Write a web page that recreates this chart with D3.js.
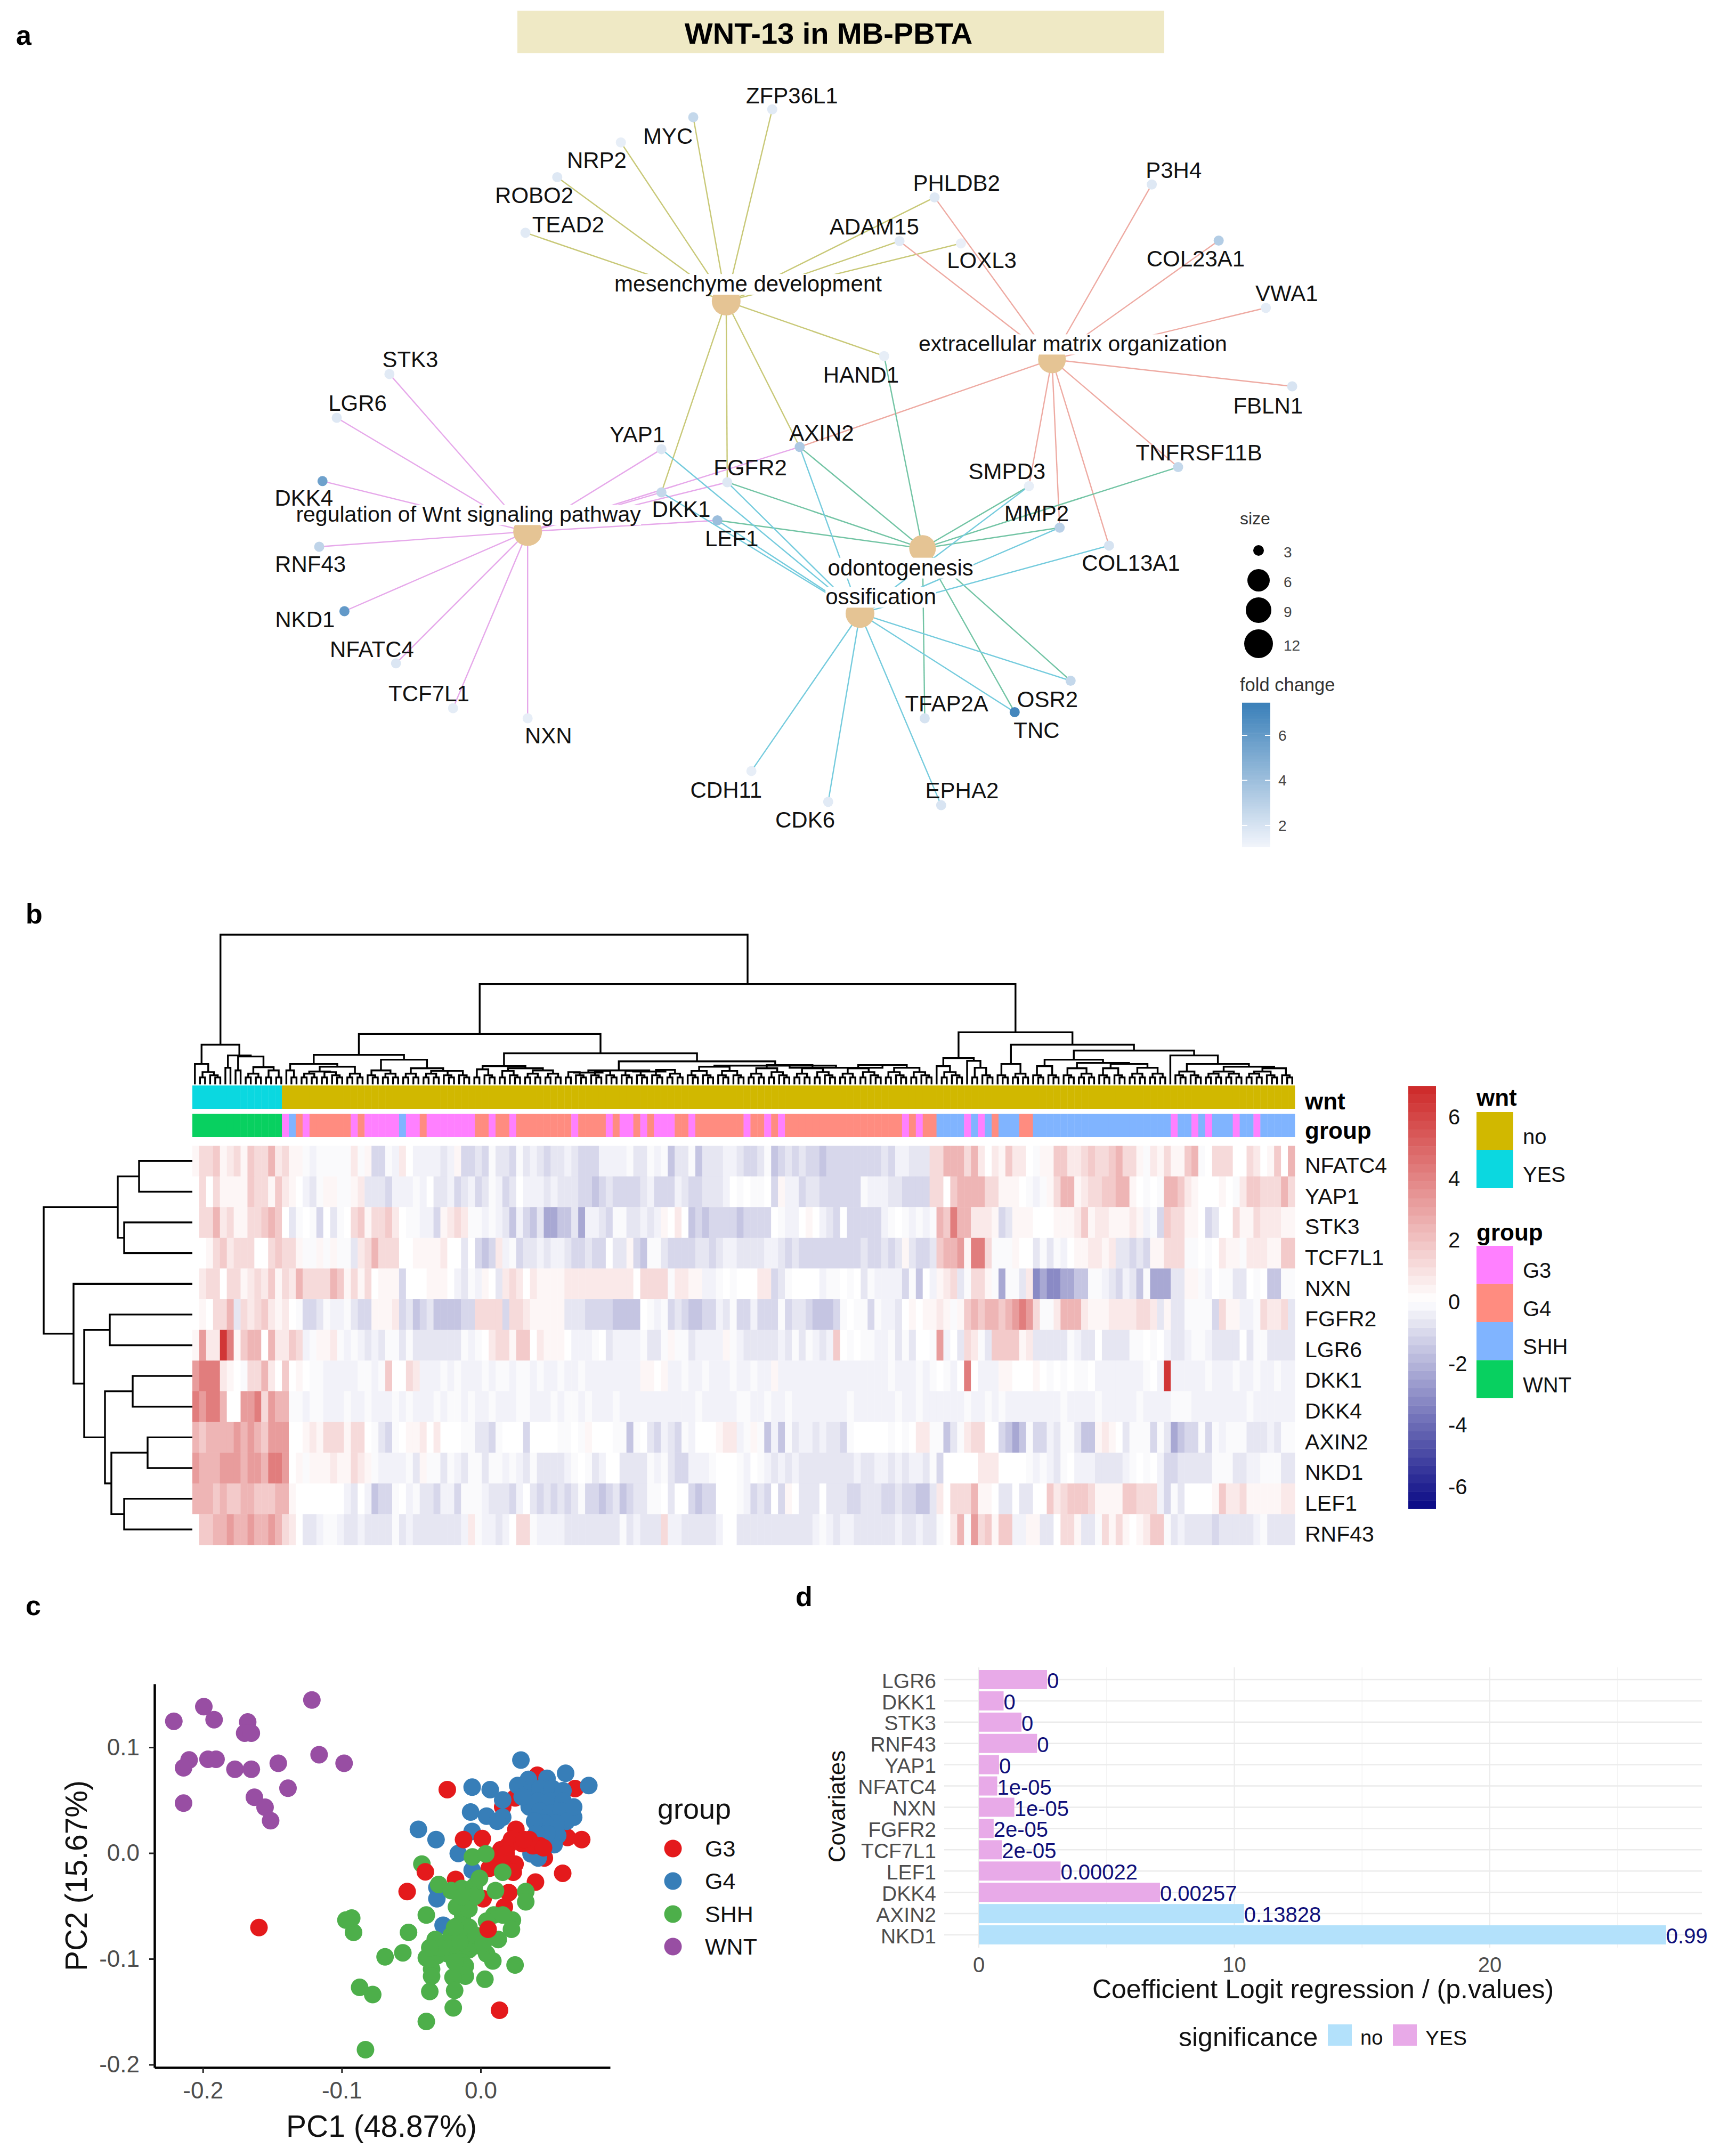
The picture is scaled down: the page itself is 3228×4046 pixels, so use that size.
<!DOCTYPE html>
<html><head><meta charset="utf-8">
<style>html,body{margin:0;padding:0;background:#fff}svg{display:block}text{font-family:"Liberation Sans",Arial,sans-serif}</style>
<script src="https://cdn.jsdelivr.net/npm/d3@7"></script></head><body><svg id="c" width="3228" height="4046" viewBox="0 0 3228 4046"></svg>
<script>
// ---------- Panel a: gene-concept network (layout units of the picture's network plot)
const termNames=["mesenchyme development","extracellular matrix organization","regulation of Wnt signaling pathway","odontogenesis","ossification"];
const termLayout=[[662,537],[959,641],[481,948],[841,978],[784,1094]];
const termLabelLayout=[[682,506],[978,613],[427,917],[821,1012],[803,1064]];
const termFont=[42,41,41,42,42];
const geneNames=["ZFP36L1","MYC","NRP2","ROBO2","TEAD2","PHLDB2","ADAM15","LOXL3","P3H4","COL23A1","VWA1","FBLN1","HAND1","STK3","LGR6","YAP1","AXIN2","FGFR2","DKK1","DKK4","LEF1","RNF43","NKD1","NFATC4","TCF7L1","NXN","SMPD3","TNFRSF11B","MMP2","COL13A1","TFAP2A","OSR2","TNC","CDH11","CDK6","EPHA2"];
const geneLayout=[[704,195],[632,209],[566,254],[508,316],[479,415],[852,352],[820,430],[876,434],[1050,329],[1111,429],[1154,549],[1178,689],[806,635],[355,667],[307,745],[603,801],[729,797],[663,860],[603,878],[294,858],[654,928],[291,975],[314,1090],[361,1183],[413,1263],[481,1281],[938,867],[1074,833],[966,941],[1011,973],[843,1281],[976,1214],[925,1270],[685,1375],[755,1430],[858,1436]];
const geneLabelLayout=[[722,170],[609,243],[544,285],[487,348],[518,400],[872,326],[797,404],[895,464],[1070,303],[1090,461],[1173,523],[1156,723],[785,668],[374,641],[326,719],[581,775],[749,772],[684,834],[621,908],[277,888],[667,960],[283,1006],[278,1105],[339,1158],[391,1237],[500,1312],[918,840],[1093,807],[945,915],[1031,1004],[863,1255],[955,1247],[945,1302],[662,1409],[734,1462],[877,1410]];
const geneFold=[1.6,2.6,1.4,1.7,1.6,1.7,1.6,1.3,1.7,3.2,1.5,1.9,1.4,1.6,1.7,1.8,3.4,1.7,2.6,5.6,4,2.8,6,1.8,1.5,1.4,1.4,2.6,3,2,2,2.6,7,1.4,1.6,1.9];
const termGenes=[
 ["ZFP36L1","MYC","NRP2","ROBO2","TEAD2","PHLDB2","ADAM15","LOXL3","HAND1","AXIN2","FGFR2","DKK1"],
 ["PHLDB2","ADAM15","P3H4","COL23A1","VWA1","FBLN1","AXIN2","TNFRSF11B","SMPD3","MMP2","COL13A1"],
 ["STK3","LGR6","DKK4","RNF43","NKD1","NFATC4","TCF7L1","NXN","YAP1","AXIN2","FGFR2","DKK1","LEF1"],
 ["HAND1","AXIN2","FGFR2","LEF1","SMPD3","TNFRSF11B","MMP2","TFAP2A","OSR2","TNC"],
 ["YAP1","FGFR2","DKK1","LEF1","SMPD3","MMP2","COL13A1","OSR2","TNC","AXIN2","CDH11","CDK6","EPHA2"]];
const termEdgeColors=["#c8c877","#eeaaa2","#e6a8ea","#72c4a4","#74cbdd"];
const sizeLegend=[3,6,9,12];
const foldTicks=[2,4,6];

// ---------- Panel b: heat map, one character per column for each gene (see levelValues)
const levelCodes="gfedcba0123456789".split("");
const levelValues=[-3.2,-2.4,-1.6,-1.1,-0.7,-0.35,-0.15,0,0.3,0.7,1.2,1.7,2.4,3.2,4.2,5.5,6.5];
const heatGenes=["NFATC4","YAP1","STK3","TCF7L1","NXN","FGFR2","LGR6","DKK1","DKK4","AXIN2","NKD1","LEF1","RNF43"];
const heatRows=[
"13341231433523 11abaaaaa2a1ddab20bbbbcb1ddcdaccdacbcdcc bcddd bbbba ccaba eccae cccbb cddca edcdc ddedd ddddd dcdbb ccc 33555 35202 14220 a1144 22343 34533 1a213 1145a 03330 03201 405",
"03031111433142 10bca11aa12cccdbbbab0ccbdcbdcabdc0bbbcbc ccdde dcddd dcbdd dbcdd cccb0 a0aa0 d1bbd ccddd dddab bbccd ddd 33045 55533 1110a ba135 51233 44551 0a0a5 54210 0010a 24433 353",
"03352311334540 ca0ad0ca034133420aabbd1232aababcebdecffe ecfbb cdaac cbcb1 020ed edddd edddd 0abb0 10bcd 0dddd dba0a bab a5475 52221 dc111 00011 12412 21112 1bad4 33110 dc003 11322 211",
"00134233300343 31aa1a1aac235333001111200c0ded2badccbcbb cddcd d0cc1 deaac ddddc cdcbb ccccb bcdcd ddddd dddcd dcdc1 cdd c4556 1773a aa100 cacab 01122 12ccd cd113 33aa0 a0211 a2221 144",
"02330331232413 2533335413130111d0001110bcab10c232021111 22222 22222 03333 a2211 bba0a 00022 dca00 00baa 0a0ca bbbbd ae0 b123c a331a faac2 gfggf feeaa bcdbc eafff cc11a b0aac c0a0e eaa",
"010335c3234212 0addcabbacdd1112dcedceeeedd3333d33211111 cccdd ddeee e0aba dcdee ddbca ddbdd dadcc deeed a0aad abbc0 101 121a1 45455 45676 3aa25 55211 12222 332c1 ccaaa ad311 bba32 23c",
"16229714550522 43ba112ababcbcaacacccccccaba023314402111 0bbba 0cbbb bacca 1aacb bbb1a bcccc cbcac abcb4 0a0aa bbaca c00 a6b0c 32ac4 44412 ccccc abcc0 cccca a0a0b ccbaa bcccc 0caac ccc",
"6777210a335204 010aabbbbbaaba40032bbbababbbabaabaababba bbabb bbbbb b1101 bbabb abbba bbabb 1bbbb bbbbb bbbbb bbabb bab a0ab0 70bbb 11000 10a0a 0aa0b bbbbb ba0b9 bbbbb abbba bbabb abb",
"76775006673655 aabaabbbabbabbbababbbabaababbabbbaabbbab aabab bbabb bbbbb bbbba bbbbb aabba bbabb bbbbb babbb bbbab bab bbbbb abbab abbbb bbbba bbbba bbbbb abbbb aaabb bbbbb babbb bbb",
"54555565654666 001213331330acda011202000aaccda000d0000a a0a10 00aae a0cdb cdab0 00122 ba1ae beacb bcbcc da000 00a0a 022 aaeca 23300 defea ddbca acee1 210ca aadac fedda dabaa acccb caa",
"65556665665776 01a111211321abbbbac1aacabcaacaababcacccc ba0ac b00cc ccaba cddbb ba000 ab0ab cbcbc ccccc ccbcc bbcbc bbc ad000 00222 0000a babca 0bbbc cccba 0a0bd dcccc caaac cbbaa acc",
"55545445544455 10000000bc0bedda0baccdbbdaaabcccdb0cdcdc dcadd edced ccaa0 c00de dd000 abdcd 0d10c cc0cc cddcc cddcd dee c2033 35110 cc0cc 00423 44431 11144 333bd ac000 01422 31111 122",
"04455655655653 20ccbaabccbccccacbcccccccb2abbcb033abbbb ccccc cccac bccc3 bbccc ccb00 ccccc ccccc cbabc bbccc cccbc cbc ca025 a6341 44bb1 1cc03 31cca 31310 1244a cbccc cdccc ccbac ccc"
];
const wntRow="YYYYYYYYYYYYY"; // first columns are the WNT-activated samples, all the rest "no"
const groupRow="WWWWWWWWWWWWW"+"3S43"+"444444"+"3"+"4"+"33333"+"S"+"33"+"4"+"3333333"+"44"+"3"+"44"+"3"+"4444444"
 +"43"+"4444"+"3"+"4"+"33"+"4"+"3"+"4"+"333"+"44"+"3"+"4444444"+"3"+"44"+"3"+"4"+"3"+"44444444444444444"+"3"+"4"+"3"+"4"
 +"4SSSS3S3S4SSS44"+"SSSSSSSSSSSSSSSSSSSS"+"3SS3S3SSS3SS3SSSSS";
const colLegendTicks=[6,4,2,0,-2,-4,-6];
const wntLegend=[["no","#d1b800"],["YES","#0bd8e0"]];
const groupLegend=[["G3","#ff80ff"],["G4","#ff8c80"],["SHH","#80b4ff"],["WNT","#08d060"]];
// dendrograms: [height, left, right]; an integer is a small cluster of that many samples
const colTree=[279,
 [74,[38,1,5],[54,[31,1,1],[52,[26,1,1],[32,[20,2,2],[26,2,2]]]]],
 [187,
  [94,
   [55,[38,[26,1,2],[33,[24,4,5],[20,2,2]]],[46,[26,3,4],[30,4,[25,4,6]]]],
   [58,[34,[28,2,3],[30,[25,2,3],[26,4,4]]],[43,[26,[22,5,6],[24,6,7]],[35,12,[31,18,19]]]]],
  [97,
   [49,[34,1,5],[44,1,[31,2,3]]],
   [74,[38,3,4],
    [63,[46,[34,3,3],[40,[30,3,4],[38,[30,3,3],[31,4,4]]]],
        [54,1,[38,[24,3,3],[33,[24,4,4],[30,[24,4,3],3]]]]]]]]];
const smallClusterHeights={2:13,3:17,4:20,5:23,6:25,7:27,8:29,9:30,10:31,11:32,12:33,18:36,19:36};
const rowTree=[279,[140,[100,1,1],[128,1,1]],[223,1,[203,[155,1,1],[164,[112,1,1],[152,[84,1,1],[128,1,1]]]]]];

// ---------- Panel c: PCA scores x 1000
const pcaWNT=[[-220.9,124.6],[-199.3,138.4],[-191.9,126.1],[-167.7,123.9],[-169.9,113.4],[-165.1,113.4],[-121.5,144.7],[-209.9,88],[-213.9,80.6],[-196.3,88.7],[-190.5,88.7],[-176.9,79.2],[-165.1,79.2],[-145.7,84.9],[-116.3,93],[-98.3,84.9],[-138.7,61.3],[-213.9,47.2],[-162.9,52.8],[-155.2,43.3],[-151.2,30.6]];
const pcaG4=[[29,87.9],[61.2,75.4],[77.9,63.8],[-6.1,62.3],[6.9,60],[15.9,50.3],[34.4,69.6],[26.7,63.8],[47.8,70.6],[35,57.1],[42.7,60.9],[51.7,60.9],[59.3,59],[41.4,49.4],[50.4,49.4],[59.3,49.4],[35,43.6],[42.7,39.7],[50.4,37.8],[58,39.7],[67,33.9],[61.9,30.1],[54.2,28.1],[46.5,28.1],[38.9,30.1],[55.5,16.6],[52.9,7.9],[-7.2,38.8],[4.3,34.9],[15.9,33.9],[12,30.1],[-44.8,22.4],[-32.1,12.7],[-6.1,20.4],[-16.1,-0.4],[36.3,-0.8],[41.4,-4.6],[-6.1,-16.2],[-31.5,-32.6],[-31.5,-43.2],[-27,-68.2],[29.9,53.2],[67,43.6],[47.8,18.5],[40.1,18.5]];
const pcaG3under=[[68,60.9],[40.8,73.5],[24.8,52.2],[45.9,55.1],[44,44.5],[56.8,34.9],[15.9,43.6],[62.5,14.7],[72.8,12.7],[45.9,-4.6]];
const pcaG3over=[[25.4,22.4],[35,12.7],[42.7,6.9],[-12.3,12.7],[1.2,13.7],[14.6,3.1],[19.7,6.9],[22.2,12.7],[29.9,8.9],[24.8,-10.4],[23.5,-18.1],[59.1,-19.1],[39.5,-27.4],[-24,60],[-52.9,-36.4],[-159.6,-70.4],[13.6,-148.6],[20.3,-37.4],[1.8,-43.2],[17.1,-50.9],[6.3,-14.3],[-18,-24.9],[14.6,-4.6],[18.4,-0.8],[37.6,6.9],[45.3,5],[31.2,12.7]];
const pcaG3top=[[-39.8,-17.7],[5.4,-72.1]];
const pcaSHH=[[-42.3,-10.4],[-5.9,-3.7],[3.7,-0.8],[-30.2,-29.7],[-21.2,-35.5],[-13.6,-33.5],[-4.6,-31.6],[-11,-45.1],[10.7,-35.5],[15.9,-18.1],[32.5,-36.4],[32.5,-46.1],[-39.1,-58.6],[-12.9,-58.6],[-11,-68.2],[-13.6,-77.9],[9.5,-58.6],[22.9,-63.4],[22.2,-72.1],[12.7,-81.7],[-32.7,-81.7],[-51.9,-75],[-68.8,-98.1],[-56,-94.3],[-39.1,-99.1],[-31.5,-97.2],[-23.8,-95.2],[-16.1,-93.3],[-8.4,-91.4],[-3.3,-87.5],[4.3,-95.2],[8.8,-102],[-35.3,-109.7],[-35.3,-116.4],[-11,-116.4],[-19.9,-117.4],[3.1,-119.3],[24.8,-105.8],[-36.6,-130.9],[-18.7,-129.9],[-13.6,-102.9],[-19.7,-146.3],[-39.1,-159.2],[-82.9,-185.9],[-87.1,-127],[-77.7,-133.8],[-91.5,-75],[-92.8,-61.5],[-97,-63.4],[-21.2,-77.9],[-5.9,-77.9],[-16.1,-68.2],[-3.3,-39.3],[-23.8,-85.6],[-11,-85.6],[-17.4,-50.9],[-8.4,-52.8],[4.3,-64.4],[15.9,-58.6],[-14.8,-83.7],[-8.4,-70.2],[-18.7,-70.2],[-3.3,-77.9],[1.8,-85.6],[-28.9,-89.5],[-36.6,-89.5],[-11,-106.8],[-18.7,-103],[-4.6,-41.3],[-13.6,-41.3],[-0.8,-23.9]];
const pcaColors={G3:"#e41a1c",G4:"#377eb8",SHH:"#4daf4a",WNT:"#984ea3"};

// ---------- Panel d: logistic regression
const covariates=["LGR6","DKK1","STK3","RNF43","YAP1","NFATC4","NXN","FGFR2","TCF7L1","LEF1","DKK4","AXIN2","NKD1"];
const coefficients=[2.67,0.97,1.67,2.28,0.79,0.72,1.39,0.58,0.9,3.2,7.09,10.38,26.9];
const pLabels=["0","0","0","0","0","1e-05","1e-05","2e-05","2e-05","0.00022","0.00257","0.13828","0.99"];
const significant=["YES","YES","YES","YES","YES","YES","YES","YES","YES","YES","YES","no","no"];
const sigColors={no:"#b3e1fb",YES:"#e8aae8"};

const svg=d3.select("#c");
const txt=(g,s,x,y,size,o={})=>g.append("text").text(s).attr("x",x).attr("y",y).attr("dy",".35em").attr("font-size",size)
  .attr("text-anchor",o.anchor||"start").attr("font-weight",o.weight||"normal").attr("fill",o.fill||"#111").attr("transform",o.rot?`rotate(${o.rot} ${x} ${y})`:null);

// panel letters
[["a",30,66],["b",48,1715],["c",48,3013],["d",1493,2996]].forEach(d=>txt(svg,d[0],d[1],d[2],52,{weight:"bold",fill:"#000"}));

// ============ Panel a
const A=svg.append("g");
A.append("rect").attr("x",971).attr("y",20).attr("width",1214).attr("height",80).attr("fill","#efe9c5");
txt(A,"WNT-13 in MB-PBTA",1555,62,56,{anchor:"middle",weight:"bold",fill:"#000"});
const nx=d3.scaleLinear().domain([0,1568]).range([0,3228]), ny=d3.scaleLinear().domain([0,1568]).range([0,1650]);
const foldColor=d3.scaleLinear().domain([1.05,7.5]).range(["#f1f4fb","#377eb8"]);
const sizeR=d3.scaleLinear().domain(sizeLegend).range([10,21,24,27]).clamp(true);
const geneIdx=new Map(geneNames.map((g,i)=>[g,i]));
termGenes.forEach((genes,t)=>{
  A.append("g").selectAll("line").data(genes).join("line")
   .attr("x1",nx(termLayout[t][0])).attr("y1",ny(termLayout[t][1]))
   .attr("x2",g=>nx(geneLayout[geneIdx.get(g)][0])).attr("y2",g=>ny(geneLayout[geneIdx.get(g)][1]))
   .attr("stroke",termEdgeColors[t]).attr("stroke-width",2.4);
});
A.append("g").selectAll("circle").data(termLayout).join("circle")
 .attr("cx",d=>nx(d[0])).attr("cy",d=>ny(d[1])).attr("r",(d,i)=>sizeR(termGenes[i].length)).attr("fill","#e5c494");
A.append("g").selectAll("circle").data(geneLayout).join("circle")
 .attr("cx",d=>nx(d[0])).attr("cy",d=>ny(d[1])).attr("r",9.5).attr("fill",(d,i)=>foldColor(geneFold[i]));
const termBg=A.append("g");
termNames.forEach((n,i)=>{
  const t=txt(A,n,nx(termLabelLayout[i][0]),ny(termLabelLayout[i][1]),termFont[i],{anchor:"middle"});
  const b=t.node().getBBox();
  termBg.append("rect").attr("x",b.x).attr("y",b.y+5).attr("width",b.width).attr("height",b.height-8).attr("fill","#fff");
});
geneNames.forEach((n,i)=>txt(A,n,nx(geneLabelLayout[i][0]),ny(geneLabelLayout[i][1]),42,{anchor:"middle"}));
txt(A,"size",2327,973,32,{fill:"#333"});
const legY=[1033,1089,1145,1208];
sizeLegend.forEach((s,i)=>{A.append("circle").attr("cx",2362).attr("cy",legY[i]).attr("r",sizeR(s)).attr("fill","#000");
  txt(A,s,2409,legY[i]+3,28,{fill:"#444"});});
txt(A,"fold change",2327,1285,34.5,{fill:"#333"});
const foldY=d3.scaleLinear().domain([2,6]).range([1549,1380]);
const fb=A.append("g");
d3.range(1.05,7.44,0.08).forEach(v=>fb.append("rect").attr("x",2331).attr("width",53).attr("y",foldY(v+0.08)).attr("height",foldY(v)-foldY(v+0.08)+0.6).attr("fill",foldColor(v)));
foldTicks.forEach(v=>{
  [[2331,2341],[2374,2384]].forEach(r=>A.append("line").attr("x1",r[0]).attr("x2",r[1]).attr("y1",foldY(v)).attr("y2",foldY(v)).attr("stroke","#fff").attr("stroke-width",2));
  txt(A,v,2399,foldY(v),28,{fill:"#444"});
});

// ============ Panel b
const B=svg.append("g");
const nCols=160;
const colX=d3.scaleBand().domain(d3.range(nCols)).range([361,2430]);
const rowY=d3.scaleBand().domain(heatGenes).range([2150,2899]);
const heatColor=d3.scaleLinear().domain([-7,0,7]).range(["#000080","#ffffff","#cd2626"]);
const lv=new Map(levelCodes.map((c,i)=>[c,levelValues[i]]));
heatRows.forEach((r,i)=>{
  const vals=r.replace(/ /g,"").padEnd(nCols,"b").slice(0,nCols).split("").map(c=>lv.get(c));
  B.append("g").selectAll("rect").data(vals).join("rect")
   .attr("x",(d,j)=>colX(j)).attr("y",rowY(heatGenes[i])).attr("width",colX.bandwidth()+0.4).attr("height",rowY.bandwidth()+0.4)
   .attr("fill",d=>heatColor(d));
  txt(B,heatGenes[i],2449,rowY(heatGenes[i])+rowY.bandwidth()/2+8,41,{fill:"#111"});
});
const wntCol=j=>j<wntRow.length?wntLegend[1][1]:wntLegend[0][1];
const groupCode={"3":0,"4":1,"S":2,"W":3};
B.append("g").selectAll("rect").data(d3.range(nCols)).join("rect").attr("x",j=>colX(j)).attr("y",2037).attr("width",colX.bandwidth()+0.4).attr("height",44).attr("fill",wntCol);
B.append("g").selectAll("rect").data(d3.range(nCols)).join("rect").attr("x",j=>colX(j)).attr("y",2090).attr("width",colX.bandwidth()+0.4).attr("height",44)
 .attr("fill",j=>groupLegend[groupCode[groupRow[j]||"S"]][1]);
txt(B,"wnt",2449,2067,44,{weight:"bold",fill:"#000"});
txt(B,"group",2449,2122,44,{weight:"bold",fill:"#000"});

function expand(n){ if(typeof n!=="number") return {h:n[0],children:[expand(n[1]),expand(n[2])]};
  if(n===1) return {h:0};
  const a=Math.floor(n/2);
  return {h:smallClusterHeights[n]||33,children:[expand(a),expand(n-a)]}; }
function layoutTree(spec){
  const root=d3.hierarchy(expand(spec)); let k=0;
  root.eachAfter(d=>{ if(!d.children){d.pos=k++;} else d.pos=(d.children[0].pos+d.children[1].pos)/2; });
  return {root,n:k};
}
const line=d3.path;
const ct=layoutTree(colTree);
const cx=d3.scaleLinear().domain([-0.5,ct.n-0.5]).range([361,2430]), chY=d3.scaleLinear().domain([0,279]).range([2035,1754]);
const cp=line();
ct.root.each(d=>{ if(d.children){const[a,b]=d.children; cp.moveTo(cx(a.pos),chY(a.data.h)); cp.lineTo(cx(a.pos),chY(d.data.h)); cp.lineTo(cx(b.pos),chY(d.data.h)); cp.lineTo(cx(b.pos),chY(b.data.h));}});
B.append("path").attr("d",cp.toString()).attr("fill","none").attr("stroke","#000").attr("stroke-width",3.4);
const rt=layoutTree(rowTree);
const ry=d3.scaleLinear().domain([-0.5,rt.n-0.5]).range([2150,2899]), rhX=d3.scaleLinear().domain([0,279]).range([361,82]);
const rp=line();
rt.root.each(d=>{ if(d.children){const[a,b]=d.children; rp.moveTo(rhX(a.data.h),ry(a.pos)); rp.lineTo(rhX(d.data.h),ry(a.pos)); rp.lineTo(rhX(d.data.h),ry(b.pos)); rp.lineTo(rhX(b.data.h),ry(b.pos));}});
B.append("path").attr("d",rp.toString()).attr("fill","none").attr("stroke","#000").attr("stroke-width",3.4);
// colour bar
const cbY=d3.scaleLinear().domain([0,6]).range([2440,2093]);
const cbVals=d3.range(-6.77,6.8,0.28);
B.append("g").selectAll("rect").data(cbVals).join("rect").attr("x",2643).attr("width",52)
 .attr("y",v=>cbY(v+0.28)).attr("height",v=>cbY(v)-cbY(v+0.28)+0.4).attr("fill",v=>heatColor(v+0.14));
colLegendTicks.forEach(v=>txt(B,v,2718,cbY(v)+3,40,{fill:"#111"}));
txt(B,"wnt",2771,2060,44,{weight:"bold",fill:"#000"});
wntLegend.forEach((d,i)=>{B.append("rect").attr("x",2771).attr("y",2087+71*i).attr("width",69).attr("height",71).attr("fill",d[1]);
  txt(B,d[0],2858,2133+71*i,40);});
txt(B,"group",2771,2313,44,{weight:"bold",fill:"#000"});
groupLegend.forEach((d,i)=>{B.append("rect").attr("x",2771).attr("y",2338+71.5*i).attr("width",69).attr("height",71.5).attr("fill",d[1]);
  txt(B,d[0],2858,2384+71.5*i,40);});

// ============ Panel c
const C=svg.append("g");
const pxBase=d3.scaleLinear().domain([-0.2,0]).range([380.7,902]), pyBase=d3.scaleLinear().domain([-0.1,0.1]).range([3676,3279]);
const px=d3.scaleLinear().domain([pxBase.invert(290),pxBase.invert(1145)]).range([290,1145]);
const py=d3.scaleLinear().domain([pyBase.invert(3880),pyBase.invert(3160)]).range([3880,3160]);
const drawPts=(arr,col)=>C.append("g").selectAll("circle").data(arr).join("circle")
 .attr("cx",d=>px(d[0]/1000)).attr("cy",d=>py(d[1]/1000)).attr("r",16.5).attr("fill",col);
drawPts(pcaG3under,pcaColors.G3);drawPts(pcaG4,pcaColors.G4);drawPts(pcaG3over,pcaColors.G3);drawPts(pcaSHH,pcaColors.SHH);drawPts(pcaG3top,pcaColors.G3);drawPts(pcaWNT,pcaColors.WNT);
const axB=C.append("g").attr("transform","translate(0,3880)").call(d3.axisBottom(px).tickValues([-0.2,-0.1,0]).tickFormat(d3.format(".1f")).tickSize(10).tickPadding(17).tickSizeOuter(0));
const axL=C.append("g").attr("transform","translate(290,0)").call(d3.axisLeft(py).tickValues([-0.2,-0.1,0,0.1]).tickFormat(d3.format(".1f")).tickSize(10).tickPadding(18).tickSizeOuter(0));
[axB,axL].forEach(a=>{a.selectAll(".domain").attr("stroke","#000").attr("stroke-width",4.5);a.selectAll(".tick line").attr("stroke","#222").attr("stroke-width",3);
 a.selectAll("text").attr("font-size",44).attr("fill","#4d4d4d").attr("font-family","Liberation Sans").text(function(){return this.textContent.replace("−","-");});});
txt(C,"PC1 (48.87%)",716,3990,57,{anchor:"middle"});
txt(C,"PC2 (15.67%)",143,3520,57,{anchor:"middle",rot:-90});
txt(C,"group",1234,3394,54);
[["G3",3469],["G4",3530],["SHH",3592],["WNT",3653]].forEach(d=>{
  C.append("circle").attr("cx",1263).attr("cy",d[1]).attr("r",16.5).attr("fill",pcaColors[d[0]]);
  txt(C,d[0],1323,d[1],43);});

// ============ Panel d
const D=svg.append("g");
const dx=d3.scaleLinear().domain([0,20]).range([1837,2796]);
const dy=d3.scaleBand().domain(covariates).range([3132,3651]).paddingInner(0.1).paddingOuter(0.05);
[5,15,25].forEach(v=>D.append("line").attr("x1",dx(v)).attr("x2",dx(v)).attr("y1",3129).attr("y2",3655).attr("stroke","#f3f3f3").attr("stroke-width",1.5));
[0,10,20].forEach(v=>D.append("line").attr("x1",dx(v)).attr("x2",dx(v)).attr("y1",3129).attr("y2",3655).attr("stroke","#ebebeb").attr("stroke-width",2));
covariates.forEach(c=>D.append("line").attr("x1",1772).attr("x2",3194).attr("y1",dy(c)+dy.bandwidth()/2).attr("y2",dy(c)+dy.bandwidth()/2).attr("stroke","#ebebeb").attr("stroke-width",2.5));
D.append("g").selectAll("rect").data(covariates).join("rect").attr("x",dx(0)).attr("y",c=>dy(c)).attr("height",dy.bandwidth())
 .attr("width",(c,i)=>dx(coefficients[i])-dx(0)).attr("fill",(c,i)=>sigColors[significant[i]]);
covariates.forEach((c,i)=>{
  txt(D,pLabels[i],dx(coefficients[i]),dy(c)+dy.bandwidth()/2+2,40,{fill:"#10107a"});
  txt(D,c,1757,dy(c)+dy.bandwidth()/2+2,39,{anchor:"end",fill:"#4d4d4d"});
});
[0,10,20].forEach(v=>txt(D,v,dx(v),3687,40,{anchor:"middle",fill:"#4d4d4d"}));
txt(D,"Coefficient Logit regression / (p.values)",2483,3732,50,{anchor:"middle"});
txt(D,"Covariates",1571,3390,44,{anchor:"middle",rot:-90});
txt(D,"significance",2212,3822,50);
D.append("rect").attr("x",2492).attr("y",3799).attr("width",45).attr("height",40).attr("fill",sigColors.no);
txt(D,"no",2553,3824,38);
D.append("rect").attr("x",2614).attr("y",3799).attr("width",45).attr("height",40).attr("fill",sigColors.YES);
txt(D,"YES",2675,3824,39);
</script></body></html>
